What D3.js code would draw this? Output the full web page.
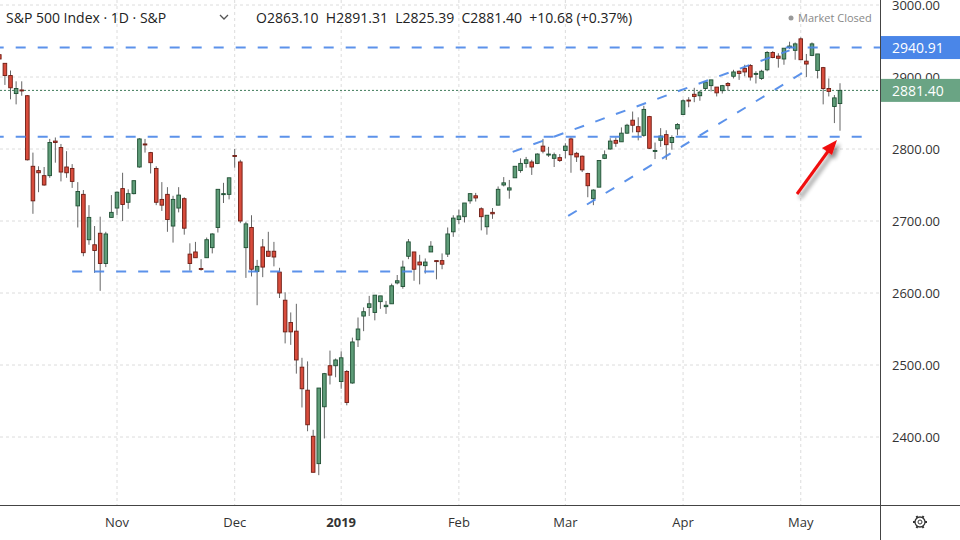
<!DOCTYPE html>
<html>
<head>
<meta charset="utf-8">
<script src="https://cdn.jsdelivr.net/npm/d3@7"></script>
<style>
  body { margin: 0; background: #fff; }
  text { font-family: "Open Sans", "DejaVu Sans", sans-serif; }
</style>
</head>
<body>
<svg id="chart" width="960" height="540"></svg>
<script>
// daily bars, Oct 3 2018 .. May 10 2019 : "open high low close"
var bars = [
  "2931 2940 2922 2925", "2919 2919 2889 2902", "2902 2909 2869 2885", "2877 2894 2862 2884", "2882 2894 2874 2881",
  "2874 2875 2784 2785", "2776 2795 2710 2728", "2770 2776 2740 2767", "2763 2775 2749 2750", "2763 2814 2760 2809",
  "2811 2816 2781 2809", "2802 2807 2755 2768", "2775 2797 2760 2767", "2773 2779 2746 2755", "2721 2754 2691 2741",
  "2737 2743 2651 2656", "2674 2722 2667 2705", "2667 2693 2628 2659", "2683 2706 2603 2641", "2641 2685 2636 2682",
  "2705 2736 2705 2712",
  // Nov
  "2718 2741 2708 2740", "2745 2767 2700 2723", "2726 2744 2717 2738", "2738 2756 2737 2756", "2775 2815 2774 2814",
  "2807 2814 2795 2806", "2795 2796 2766 2781", "2773 2776 2722 2726", "2730 2754 2714 2722", "2737 2747 2685 2702",
  "2693 2735 2670 2730", "2718 2747 2712 2736", "2731 2733 2681 2690", "2654 2669 2631 2641", "2657 2671 2649 2649",
  "2634 2647 2631 2633", "2649 2677 2649 2674", "2663 2683 2655 2682", "2691 2744 2684 2744", "2737 2753 2725 2738",
  "2737 2760 2730 2760",
  // Dec
  "2791 2800 2774 2790", "2782 2785 2697 2700", "2663 2699 2621 2696", "2691 2708 2623 2633", "2630 2646 2583 2637",
  "2664 2675 2622 2636", "2658 2685 2650 2651", "2658 2671 2637 2650", "2629 2635 2593 2600", "2590 2601 2530 2546",
  "2559 2573 2528 2546", "2547 2585 2488 2507", "2497 2510 2441 2467", "2465 2505 2408 2417", "2401 2410 2351 2351",
  "2363 2468 2347 2468", "2442 2489 2398 2488", "2499 2520 2473 2486", "2499 2509 2483 2507",
  // Jan
  "2477 2519 2467 2510", "2491 2493 2444 2448", "2475 2538 2474 2532", "2535 2566 2525 2550", "2568 2580 2547 2574",
  "2580 2596 2568 2585", "2573 2597 2562 2597", "2588 2596 2578 2596", "2581 2589 2571 2583", "2585 2613 2585 2610",
  "2614 2625 2612 2617", "2609 2645 2606 2636", "2651 2675 2647 2671", "2657 2657 2617 2633", "2643 2653 2612 2639",
  "2638 2648 2627 2643", "2657 2672 2657 2665", "2645 2645 2619 2644", "2645 2655 2633 2640", "2654 2691 2650 2682",
  "2685 2708 2678 2704",
  // Feb
  "2702 2716 2696 2707", "2706 2724 2698 2725", "2728 2738 2724 2738", "2735 2739 2727 2732", "2717 2719 2687 2706",
  "2692 2708 2681 2708", "2712 2718 2703 2710", "2722 2748 2722 2744", "2750 2761 2748 2753", "2743 2757 2731 2746",
  "2760 2776 2760 2776", "2770 2787 2767 2780", "2780 2789 2774 2785", "2782 2785 2764 2775", "2780 2794 2779 2793",
  "2804 2814 2794 2797", "2792 2803 2789 2793", "2787 2795 2775 2792", "2788 2793 2782 2784",
  // Mar
  "2798 2808 2787 2804", "2814 2816 2767 2792", "2794 2796 2782 2789", "2790 2791 2768 2771", "2766 2767 2733 2749",
  "2731 2744 2722 2743", "2747 2784 2747 2784", "2787 2798 2786 2792", "2800 2815 2799 2811", "2812 2816 2803 2808",
  "2810 2830 2810 2822", "2822 2835 2821 2833", "2840 2852 2823 2833", "2831 2844 2812 2824", "2819 2860 2817 2855",
  "2845 2846 2800 2801", "2797 2809 2786 2798", "2812 2829 2803 2818", "2820 2826 2785 2806", "2809 2819 2799 2816",
  "2828 2836 2819 2834",
  // Apr
  "2848 2869 2848 2867", "2868 2872 2858 2867", "2876 2885 2865 2873", "2874 2881 2867 2879", "2884 2893 2882 2893",
  "2888 2896 2880 2896", "2886 2886 2873 2878", "2881 2889 2877 2888", "2891 2893 2881 2888", "2901 2910 2898 2907",
  "2908 2909 2896 2905", "2912 2917 2901 2907", "2916 2918 2895 2900", "2904 2908 2891 2905", "2898 2910 2896 2908",
  "2910 2936 2908 2934", "2934 2936 2926 2927", "2929 2933 2913 2926", "2925 2940 2917 2940", "2941 2949 2939 2943",
  "2937 2948 2924 2946",
  // May
  "2953 2955 2924 2924", "2922 2932 2900 2918", "2930 2948 2929 2946", "2909 2932 2898 2932", "2913 2914 2862 2884",
  "2884 2898 2873 2880", "2859 2875 2836 2871", "2863.10 2891.31 2825.39 2881.40"
];
var monthTicks = [[21, "Nov"], [42, "Dec"], [61, "2019"], [82, "Feb"], [101, "Mar"], [122, "Apr"], [143, "May"]];
var priceTicks = [2400, 2500, 2600, 2700, 2800, 2900, 3000];
// drawn lines: [index, value] pairs
var levels = [
  [[-1, 2940.91], [158, 2940.91]],
  [[-1, 2817], [155.3, 2817]],
  [[13, 2630], [78.6, 2630]],
  [[91.6, 2796], [141, 2937]],
  [[101.5, 2707], [144.6, 2912]]
];
var lastClose = 2881.40;

var data = bars.map(function (s, i) {
  var v = s.split(" ").map(Number);
  return {i: i, o: v[0], h: v[1], l: v[2], c: v[3]};
});

var W = 880, H = 505;
var svg = d3.select("#chart");
var x = d3.scaleLinear().domain([21, 150]).range([117, 840]);
var y = d3.scaleLinear().domain([3000 - 500 / 0.72, 3000 + 5 / 0.72]).range([H, 0]);
var bw = 3.6;

var plot = svg.append("g");
// grid
plot.selectAll(".hg").data(priceTicks).enter().append("line")
  .attr("x1", 0).attr("x2", W).attr("y1", d => y(d)).attr("y2", d => y(d))
  .attr("stroke", "#dcdcdc").attr("stroke-dasharray", "3,3");
plot.selectAll(".vg").data(monthTicks).enter().append("line")
  .attr("x1", d => x(d[0])).attr("x2", d => x(d[0])).attr("y1", 0).attr("y2", H)
  .attr("stroke", "#dcdcdc").attr("stroke-dasharray", "3,3");

// last price line
plot.append("line").attr("x1", 0).attr("x2", W).attr("y1", y(lastClose)).attr("y2", y(lastClose))
  .attr("stroke", "#3f7a5a").attr("stroke-dasharray", "2,2");

// candles
var c = plot.selectAll(".c").data(data).enter().append("g");
c.append("line").attr("x1", d => x(d.i)).attr("x2", d => x(d.i))
  .attr("y1", d => y(d.h)).attr("y2", d => y(d.l)).attr("stroke", "#666").attr("stroke-width", 1);
c.append("rect")
  .attr("x", d => x(d.i) - bw / 2).attr("width", bw)
  .attr("y", d => y(Math.max(d.o, d.c)))
  .attr("height", d => Math.max(1, Math.abs(y(d.o) - y(d.c))))
  .attr("fill", d => d.c >= d.o ? "#5e9c78" : "#d84c3c")
  .attr("stroke", d => d.c >= d.o ? "#1f4f33" : "#6e1c13").attr("stroke-width", 0.9);

// trend / level lines
var ln = d3.line().x(d => x(d[0])).y(d => y(d[1]));
plot.selectAll(".lv").data(levels).enter().append("path")
  .attr("d", ln).attr("fill", "none").attr("stroke", "#4a86e8").attr("stroke-width", 2)
  .attr("stroke-dasharray", "10,12").attr("opacity", 0.9);

// arrow
var defs = svg.append("defs");
var f = defs.append("filter").attr("id", "sh").attr("x", "-50%").attr("y", "-50%").attr("width", "200%").attr("height", "200%");
f.append("feGaussianBlur").attr("in", "SourceAlpha").attr("stdDeviation", 2);
f.append("feOffset").attr("dx", 3).attr("dy", 4).attr("result", "b");
f.append("feComponentTransfer").append("feFuncA").attr("type", "linear").attr("slope", 0.45);
var fm = f.append("feMerge"); fm.append("feMergeNode"); fm.append("feMergeNode").attr("in", "SourceGraphic");
var ag = svg.append("g").attr("filter", "url(#sh)");
ag.append("line").attr("x1", 797).attr("y1", 194).attr("x2", 829).attr("y2", 150)
  .attr("stroke", "#f01010").attr("stroke-width", 3);
ag.append("path").attr("d", "M837,140 L822,148 L832,155 Z").attr("fill", "#f01010");

// axes frame
svg.append("line").attr("x1", W + 0.5).attr("x2", W + 0.5).attr("y1", 0).attr("y2", 540).attr("stroke", "#444");
svg.append("line").attr("x1", 0).attr("x2", 960).attr("y1", H + 0.5).attr("y2", H + 0.5).attr("stroke", "#444");

svg.selectAll(".pt").data(priceTicks).enter().append("text")
  .attr("x", 892).attr("y", d => y(d) + 5).attr("font-size", 13).attr("fill", "#333")
  .text(d => d.toFixed(2));
svg.selectAll(".mt").data(monthTicks).enter().append("text")
  .attr("x", d => x(d[0])).attr("y", 527).attr("text-anchor", "middle")
  .attr("font-size", 13).attr("fill", "#333").attr("font-weight", d => d[1] === "2019" ? "bold" : "normal")
  .text(d => d[1]);

// price labels
function tag(v, col) {
  svg.append("rect").attr("x", 881).attr("y", y(v) - 11.5).attr("width", 79).attr("height", 23).attr("fill", col);
  svg.append("text").attr("x", 892).attr("y", y(v) + 5.5).attr("font-size", 14).attr("fill", "#fff").text(v.toFixed(2));
}
tag(2940.91, "#4a86e8");
tag(lastClose, "#6aa484");

// gear
var gear = svg.append("g").attr("transform", "translate(920,522)");
gear.append("circle").attr("r", 5).attr("fill", "none").attr("stroke", "#333").attr("stroke-width", 1.3);
gear.append("circle").attr("r", 2).attr("fill", "none").attr("stroke", "#333");
d3.range(6).forEach(function (k) {
  var a = k * Math.PI / 3;
  gear.append("line").attr("x1", 5 * Math.cos(a)).attr("y1", 5 * Math.sin(a))
    .attr("x2", 7 * Math.cos(a)).attr("y2", 7 * Math.sin(a)).attr("stroke", "#333").attr("stroke-width", 2);
});

// header
var hd = svg.append("text").attr("x", 6).attr("y", 23).attr("font-size", 14).attr("fill", "#222");
hd.append("tspan").text("S&P 500 Index · 1D · S&P");
svg.append("path").attr("d", "M220,15 L224,19 L228,15").attr("fill", "none").attr("stroke", "#555").attr("stroke-width", 1.3);
svg.append("text").attr("x", 256).attr("y", 23).attr("font-size", 14).attr("fill", "#222")
  .text("O2863.10  H2891.31  L2825.39  C2881.40  +10.68 (+0.37%)").attr("xml:space", "preserve");
svg.append("circle").attr("cx", 791).attr("cy", 18).attr("r", 2.5).attr("fill", "#999");
svg.append("text").attr("x", 798).attr("y", 22).attr("font-size", 11).attr("fill", "#888").text("Market Closed");
</script>
</body>
</html>
